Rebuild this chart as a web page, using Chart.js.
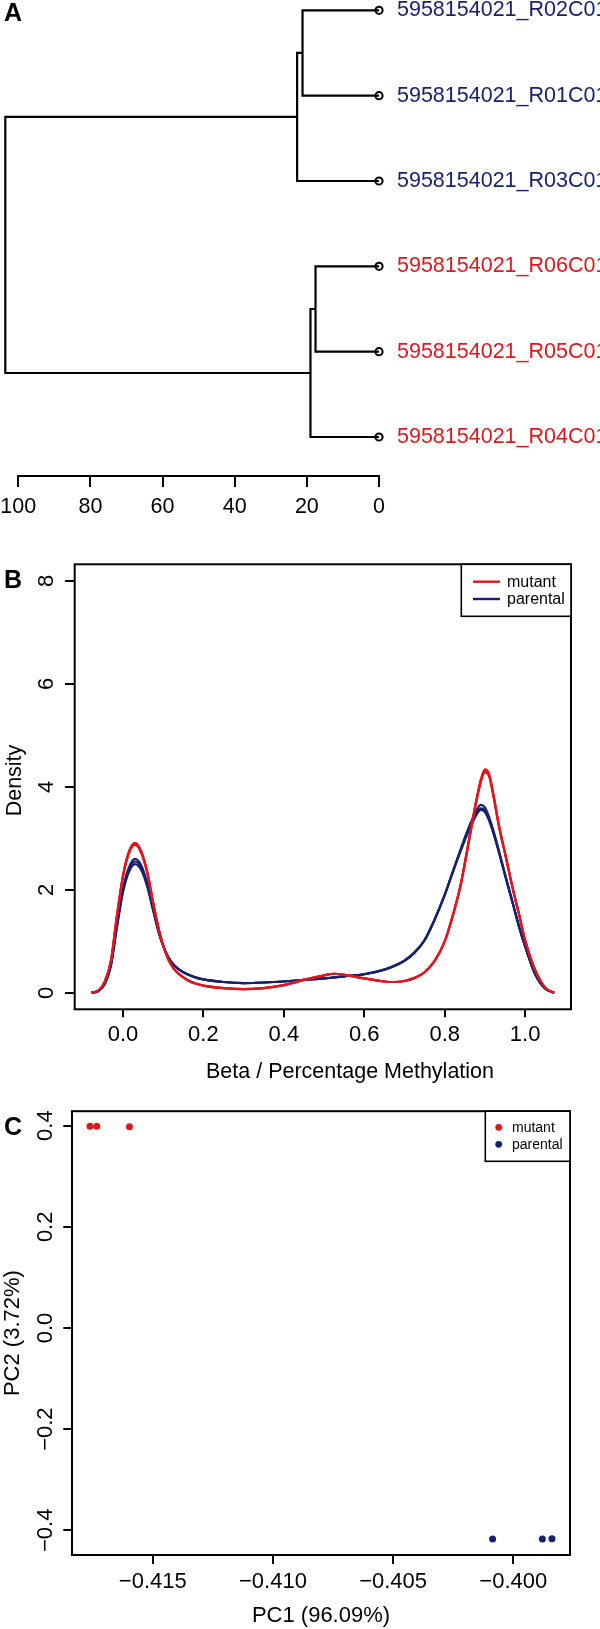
<!DOCTYPE html>
<html>
<head>
<meta charset="utf-8">
<script src="https://cdn.jsdelivr.net/npm/chart.js@4.4.0/dist/chart.umd.min.js"></script>
<style>
  html, body { margin: 0; padding: 0; background: #fff; }
  #wrap { position: relative; width: 600px; height: 1629px; }
  canvas { position: absolute; left: 0; }
</style>
</head>
<body>
<div id="wrap">
  <canvas id="dendroChart" width="600" height="530" style="top:0;width:600px;height:530px"></canvas>
  <canvas id="densityChart" width="600" height="560" style="top:530px;width:600px;height:560px"></canvas>
  <canvas id="pcaChart" width="600" height="539" style="top:1090px;width:600px;height:539px"></canvas>
</div>
<script>
// ---- data ----
// A: dendrogram (leaves in display order, merges as in hclust: negative = leaf, positive = earlier merge)
const leafLabels = ['5958154021_R02C01', '5958154021_R01C01', '5958154021_R03C01',
                    '5958154021_R06C01', '5958154021_R05C01', '5958154021_R04C01'];
const leafGroups = ['parental', 'parental', 'parental', 'mutant', 'mutant', 'mutant'];
const mergeLeft = [-1, 1, -4, 3, 2];
const mergeRight = [-2, -3, -5, -6, 4];
const mergeHeights = [21.2, 22.7, 17.6, 19.0, 103.6];
const heightTicks = [0, 20, 40, 60, 80, 100];

// B: density of beta values
const densityX = [-0.078, -0.06, -0.045, -0.03, -0.015, 0, 0.015, 0.03, 0.045, 0.06, 0.075, 0.09, 0.105, 0.12,
  0.14, 0.16, 0.18, 0.2, 0.25, 0.3, 0.35, 0.4, 0.45, 0.5, 0.525, 0.55, 0.6, 0.65, 0.675, 0.7, 0.725, 0.75, 0.775,
  0.8, 0.82, 0.84, 0.855, 0.87, 0.88, 0.89, 0.9, 0.91, 0.92, 0.935, 0.95, 0.97, 0.985, 1.0, 1.025, 1.05, 1.072];
const mutant1 = [0.00, 0.05, 0.22, 0.62, 1.50, 2.28, 2.75, 2.91, 2.76, 2.36, 1.76, 1.20, 0.80, 0.54, 0.36, 0.25,
  0.18, 0.14, 0.09, 0.07, 0.09, 0.15, 0.25, 0.34, 0.37, 0.35, 0.28, 0.22, 0.21, 0.23, 0.29, 0.40, 0.62,
  1.00, 1.50, 2.12, 2.75, 3.40, 3.80, 4.15, 4.34, 4.26, 3.90, 3.25, 2.72, 2.00, 1.52, 1.02, 0.44, 0.10, 0.00];
const mutant2 = [0.00, 0.05, 0.22, 0.62, 1.49, 2.26, 2.73, 2.89, 2.74, 2.35, 1.75, 1.20, 0.80, 0.54, 0.36, 0.25,
  0.18, 0.14, 0.09, 0.07, 0.09, 0.15, 0.25, 0.34, 0.37, 0.35, 0.28, 0.22, 0.21, 0.23, 0.29, 0.40, 0.62,
  1.00, 1.50, 2.11, 2.73, 3.38, 3.78, 4.12, 4.31, 4.23, 3.88, 3.24, 2.71, 2.00, 1.52, 1.02, 0.44, 0.10, 0.00];
const mutant3 = [0.00, 0.05, 0.22, 0.61, 1.48, 2.25, 2.71, 2.87, 2.72, 2.34, 1.75, 1.20, 0.80, 0.54, 0.36, 0.25,
  0.18, 0.14, 0.09, 0.07, 0.09, 0.15, 0.25, 0.34, 0.37, 0.35, 0.28, 0.22, 0.21, 0.23, 0.29, 0.40, 0.62,
  1.00, 1.49, 2.10, 2.71, 3.36, 3.76, 4.10, 4.28, 4.21, 3.86, 3.22, 2.70, 1.99, 1.51, 1.02, 0.44, 0.10, 0.00];
const parental1 = [0.00, 0.04, 0.18, 0.55, 1.32, 2.02, 2.44, 2.60, 2.48, 2.14, 1.64, 1.16, 0.82, 0.60, 0.45, 0.36,
  0.30, 0.26, 0.21, 0.19, 0.20, 0.22, 0.25, 0.28, 0.30, 0.32, 0.36, 0.45, 0.52, 0.62, 0.78, 1.02, 1.42,
  1.90, 2.35, 2.80, 3.12, 3.40, 3.56, 3.65, 3.60, 3.42, 3.18, 2.75, 2.30, 1.72, 1.28, 0.90, 0.36, 0.08, 0.00];
const parental2 = [0.00, 0.04, 0.17, 0.52, 1.27, 1.95, 2.35, 2.50, 2.39, 2.07, 1.60, 1.14, 0.81, 0.60, 0.45, 0.36,
  0.30, 0.26, 0.21, 0.19, 0.20, 0.22, 0.25, 0.28, 0.30, 0.32, 0.36, 0.45, 0.53, 0.63, 0.79, 1.03, 1.43,
  1.90, 2.34, 2.76, 3.06, 3.32, 3.47, 3.55, 3.51, 3.35, 3.12, 2.72, 2.28, 1.71, 1.28, 0.90, 0.36, 0.08, 0.00];
const parental3 = [0.00, 0.04, 0.18, 0.53, 1.30, 1.98, 2.40, 2.55, 2.44, 2.11, 1.62, 1.15, 0.82, 0.60, 0.45, 0.36,
  0.30, 0.26, 0.21, 0.19, 0.20, 0.22, 0.25, 0.28, 0.30, 0.32, 0.36, 0.45, 0.52, 0.62, 0.78, 1.02, 1.42,
  1.90, 2.35, 2.78, 3.08, 3.35, 3.50, 3.58, 3.54, 3.38, 3.15, 2.74, 2.29, 1.72, 1.28, 0.90, 0.36, 0.08, 0.00];
const betaTicks = [0, 0.2, 0.4, 0.6, 0.8, 1.0];
const densityTicks = [0, 2, 4, 6, 8];

// C: PCA
const pc1Mutant = [-0.41761, -0.41733, -0.41597];
const pc2Mutant = [0.399, 0.399, 0.398];
const pc1Parental = [-0.40086, -0.39879, -0.39839];
const pc2Parental = [-0.4172, -0.4172, -0.4165];
const pc1Ticks = [-0.415, -0.41, -0.405, -0.4];
const pc2Ticks = [-0.4, -0.2, 0, 0.2, 0.4];

const legendGroups = ['mutant', 'parental'];

// ---- style ----
const FONT = '"Liberation Sans", Arial, Helvetica, sans-serif';
const RED = '#e0161c';
const NAVY = '#17226f';
const groupColor = { mutant: RED, parental: NAVY };
Chart.defaults.font.family = FONT;
Chart.defaults.color = '#000';
Chart.defaults.animation = false;

function fixSize(w, h) {
  return scale => {
    if (w !== null) scale.width = w;
    if (h !== null) scale.height = h;
    scale.paddingLeft = scale.paddingRight = scale.paddingTop = scale.paddingBottom = 0;
  };
}
function setTicks(values) {
  return scale => { scale.ticks = values.map(v => ({ value: v })); };
}
function fmt(dec) {
  return v => (v < 0 ? '\u2212' : '') + Math.abs(v).toFixed(dec);
}
const tickGrid = len => ({ display: true, drawOnChartArea: false, drawTicks: true, tickLength: len, color: '#000', lineWidth: 2 });

function panelLetter(letter, baseline) {
  return {
    id: 'letter' + letter,
    afterDraw(chart) {
      const ctx = chart.ctx;
      ctx.save();
      ctx.font = 'bold 25px ' + FONT;
      ctx.fillStyle = '#000';
      ctx.textBaseline = 'alphabetic';
      ctx.fillText(letter, 4, baseline);
      ctx.restore();
    }
  };
}
const framePlugin = {
  id: 'frame',
  afterDraw(chart) {
    const { ctx, chartArea: a } = chart;
    ctx.save();
    ctx.strokeStyle = '#000';
    ctx.lineWidth = 2;
    ctx.strokeRect(a.left, a.top, a.right - a.left, a.bottom - a.top);
    ctx.restore();
  }
};
function boxLegend(o) {
  return {
    id: 'boxLegend',
    afterDraw(chart) {
      const { ctx, chartArea: a } = chart;
      const left = a.right - o.w;
      ctx.save();
      ctx.fillStyle = '#fff';
      ctx.fillRect(left, a.top, o.w, o.h);
      ctx.strokeStyle = '#000';
      ctx.lineWidth = 1.6;
      ctx.strokeRect(left, a.top, o.w, o.h);
      ctx.font = o.size + 'px ' + FONT;
      ctx.textBaseline = 'middle';
      legendGroups.forEach((g, i) => {
        const y = a.top + o.y0 + i * o.dy;
        ctx.strokeStyle = ctx.fillStyle = groupColor[g];
        if (o.dot) {
          ctx.beginPath();
          ctx.arc(left + o.mark, y, 3.4, 0, Math.PI * 2);
          ctx.fill();
        } else {
          ctx.lineWidth = 2.4;
          ctx.beginPath();
          ctx.moveTo(left + o.mark, y);
          ctx.lineTo(left + o.mark + 27, y);
          ctx.stroke();
        }
        ctx.fillStyle = '#000';
        ctx.fillText(g, left + o.text, y + 1);
      });
      ctx.restore();
    }
  };
}

// ---- A: dendrogram ----
const dendroSets = [];
const nodeY = [];
const nodeH = [];
function nodePos(ref) {
  return ref < 0 ? { h: 0, y: -ref } : { h: nodeH[ref - 1], y: nodeY[ref - 1] };
}
mergeHeights.forEach((h, i) => {
  const a = nodePos(mergeLeft[i]);
  const b = nodePos(mergeRight[i]);
  dendroSets.push({
    data: [{ x: a.h, y: a.y }, { x: h, y: a.y }, { x: h, y: b.y }, { x: b.h, y: b.y }],
    showLine: true, borderColor: '#000', borderWidth: 2.2, pointRadius: 0, clip: false
  });
  nodeY.push((a.y + b.y) / 2);
  nodeH.push(h);
});
const nodeCircles = leafLabels.map((_, i) => ({ x: 0, y: i + 1 }));
nodeCircles.push({ x: nodeH[nodeH.length - 1], y: nodeY[nodeY.length - 1] });

new Chart(document.getElementById('dendroChart'), {
  type: 'scatter',
  data: {
    datasets: [{
      data: nodeCircles,
      pointRadius: ctx => ctx.dataIndex === leafLabels.length ? 4.2 : 3.6,
      pointBorderWidth: 2,
      pointBorderColor: '#000',
      pointBackgroundColor: 'rgba(0,0,0,0)',
      clip: false
    }, ...dendroSets]
  },
  options: {
    responsive: false,
    layout: { padding: { top: 10.3, left: 18.3, right: 0, bottom: 0 } },
    plugins: { legend: { display: false }, tooltip: { enabled: false } },
    scales: {
      x: {
        type: 'linear', position: 'bottom', reverse: true, min: 0, max: 100,
        afterBuildTicks: setTicks(heightTicks),
        afterFit: fixSize(null, 54),
        grid: tickGrid(11),
        border: { display: true, color: '#000', width: 2 },
        ticks: { font: { size: 21.5 }, padding: 7.6, autoSkip: false, minRotation: 0, maxRotation: 0 }
      },
      y: {
        type: 'linear', position: 'right', reverse: true, min: 1, max: 6.457,
        afterBuildTicks: setTicks(leafLabels.map((_, i) => i + 1)),
        afterFit: fixSize(221, null),
        grid: { display: false },
        border: { display: false },
        ticks: {
          font: { size: 21.5 }, padding: 10, autoSkip: false,
          callback: v => leafLabels[v - 1],
          color: c => groupColor[leafGroups[c.tick.value - 1]]
        }
      }
    }
  },
  plugins: [panelLetter('A', 20.7)]
});

// ---- B: density ----
const densitySeries = [
  { group: 'mutant', values: mutant1 },
  { group: 'mutant', values: mutant2 },
  { group: 'mutant', values: mutant3 },
  { group: 'parental', values: parental1 },
  { group: 'parental', values: parental2 },
  { group: 'parental', values: parental3 }
];
new Chart(document.getElementById('densityChart'), {
  type: 'scatter',
  data: {
    datasets: densitySeries.map(s => ({
      label: s.group,
      data: densityX.map((x, i) => ({ x: x, y: s.values[i] })),
      showLine: true,
      borderColor: groupColor[s.group],
      borderWidth: 2.2,
      pointRadius: 0,
      cubicInterpolationMode: 'monotone'
    }))
  },
  options: {
    responsive: false,
    layout: { padding: { top: 34.3, right: 29, left: 0, bottom: 0 } },
    plugins: { legend: { display: false }, tooltip: { enabled: false } },
    scales: {
      x: {
        type: 'linear', min: -0.120, max: 1.114,
        afterBuildTicks: setTicks(betaTicks),
        afterFit: fixSize(null, 80.7),
        grid: tickGrid(8),
        border: { display: false },
        ticks: { font: { size: 22 }, padding: 4.5, callback: fmt(1), autoSkip: false, minRotation: 0, maxRotation: 0 }
      },
      y: {
        type: 'linear', min: -0.32, max: 8.32,
        afterBuildTicks: setTicks(densityTicks),
        afterFit: fixSize(74.7, null),
        grid: tickGrid(9.7),
        border: { display: false },
        ticks: { font: { size: 22 }, padding: 11.9, minRotation: 90, maxRotation: 90, crossAlign: 'center', autoSkip: false }
      }
    }
  },
  plugins: [framePlugin, panelLetter('B', 58.3),
    boxLegend({ w: 109.7, h: 52, mark: 11.7, text: 45.7, y0: 17.4, dy: 17.3, size: 16, dot: false }),
    {
      id: 'densityTitles',
      afterDraw(chart) {
        const ctx = chart.ctx;
        ctx.save();
        ctx.font = '21.5px ' + FONT;
        ctx.fillStyle = '#000';
        ctx.textAlign = 'center';
        ctx.textBaseline = 'alphabetic';
        ctx.fillText('Beta / Percentage Methylation', 350, 547.6);
        ctx.translate(20.7, 250.5);
        ctx.rotate(-Math.PI / 2);
        ctx.fillText('Density', 0, 0);
        ctx.restore();
      }
    }]
});

// ---- C: PCA ----
new Chart(document.getElementById('pcaChart'), {
  type: 'scatter',
  data: {
    datasets: [
      { label: 'mutant', data: pc1Mutant.map((x, i) => ({ x: x, y: pc2Mutant[i] })),
        pointRadius: 3.5, pointBorderWidth: 0, pointBackgroundColor: RED, clip: false },
      { label: 'parental', data: pc1Parental.map((x, i) => ({ x: x, y: pc2Parental[i] })),
        pointRadius: 3.5, pointBorderWidth: 0, pointBackgroundColor: NAVY, clip: false }
    ]
  },
  options: {
    responsive: false,
    layout: { padding: { top: 21.2, right: 30, left: 0, bottom: 0 } },
    plugins: { legend: { display: false }, tooltip: { enabled: false } },
    scales: {
      x: {
        type: 'linear', min: -0.41836, max: -0.39764,
        afterBuildTicks: setTicks(pc1Ticks),
        afterFit: fixSize(null, 74),
        grid: tickGrid(9),
        border: { display: false },
        ticks: { font: { size: 22 }, padding: 4.8, callback: fmt(3), autoSkip: false, minRotation: 0, maxRotation: 0 },
        title: { display: true, text: 'PC1 (96.09%)', font: { size: 22 }, padding: { top: 0, bottom: 0 } }
      },
      y: {
        type: 'linear', min: -0.4488, max: 0.4286,
        afterBuildTicks: setTicks(pc2Ticks),
        afterFit: fixSize(72, null),
        grid: tickGrid(8.7),
        border: { display: false },
        ticks: { font: { size: 22 }, padding: -4.4, callback: fmt(1), minRotation: 90, maxRotation: 90, crossAlign: 'center', autoSkip: false },
        title: { display: true, text: 'PC2 (3.72%)', font: { size: 22 }, padding: { top: 0, bottom: 0 } }
      }
    }
  },
  plugins: [framePlugin, panelLetter('C', 45),
    boxLegend({ w: 84.7, h: 50.1, mark: 13.4, text: 26.7, y0: 16.1, dy: 17, size: 14, dot: true })]
});
</script>
</body>
</html>
